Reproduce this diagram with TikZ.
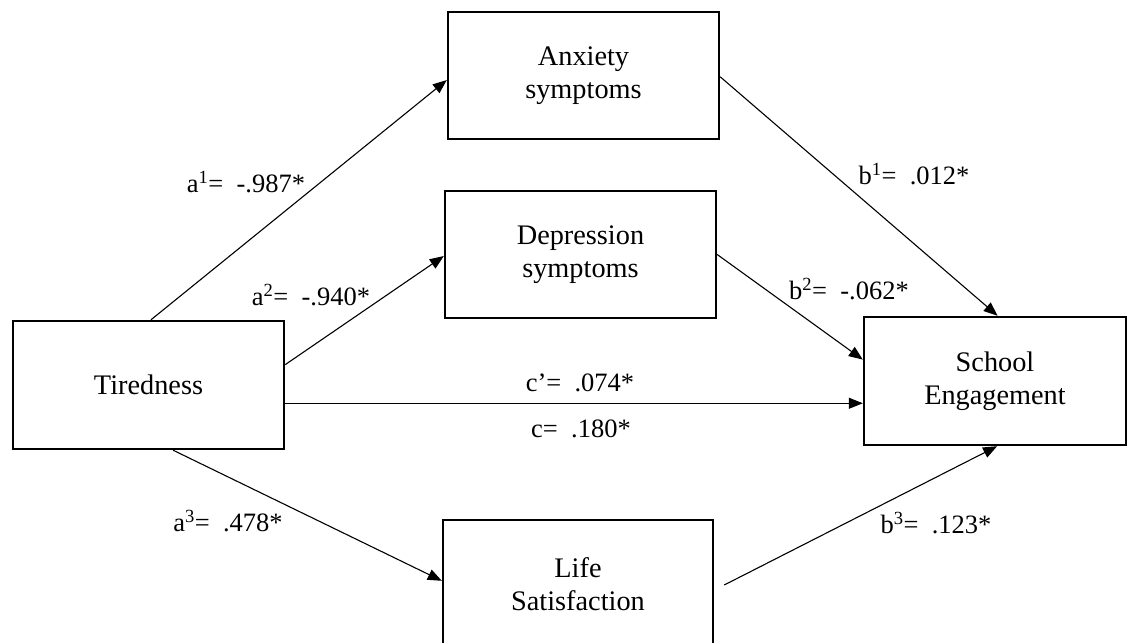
\documentclass[tikz,border=0pt]{standalone}
\usepackage{fontspec}
\setmainfont{Liberation Serif}
\usetikzlibrary{arrows.meta,calc}
\begin{document}
\begin{tikzpicture}[x=1pt,y=-1pt,
 box/.style={draw,line width=2.4pt,align=center,font=\fontsize{28.3}{33}\selectfont,inner sep=0pt},
 arr/.style={-{Triangle[length=14pt,width=11pt]},line width=1.1pt},
 lab/.style={font=\fontsize{26.5}{30}\selectfont,inner sep=0pt}]
\clip (0,0) rectangle (1128,643);
\fill[white] (0,0) rectangle (1128,643);
\node[box,minimum width=271,minimum height=127] (anx) at (583.5,75.5) {Anxiety\\symptoms};
\node[box,minimum width=271,minimum height=127] (dep) at (580.5,254.5) {Depression\\symptoms};
\node[box,minimum width=271,minimum height=128] (tired) at (148.5,385) {Tiredness};
\node[box,minimum width=262,minimum height=128] (school) at (995,381) {School\\Engagement};
\node[box,minimum width=270,minimum height=128] (life) at (578,584) {Life\\Satisfaction};
% connectors
\coordinate (t1) at ($(tired.north west)!0.509!(tired.north east)$);
\draw[arr] (t1) -- ($(anx.north west)!0.535!(anx.south west)$);
\draw[arr] ($(tired.north east)!0.344!(tired.south east)$) -- ($(dep.north west)!0.512!(dep.south west)$);
\coordinate (t3) at ($(tired.north east)!0.64!(tired.south east)$);
\draw[arr] (t3) -- (t3 -| school.west);
\draw[arr] ($(tired.south west)!0.59!(tired.south east)$) -- ($(life.north west)+(0,62)$);
\draw[arr] ($(anx.north east)!0.51!(anx.south east)$) -- ($(school.north west)!0.51!(school.north east)$);
\draw[arr] (dep.east) -- ($(school.north west)!0.336!(school.south west)$);
\coordinate (l1) at ($(life.east)+(10,1)$);
\draw[arr] (l1) -- ($(school.south west)!0.508!(school.south east)$);
% labels
\node[lab] (la1) at (246,182) {a\textsuperscript{1}=\ \ -.987*};
\node[lab] (la2) at (311,295) {a\textsuperscript{2}=\ \ -.940*};
\node[lab] (lc1) at (580,383) {c’=\ \ .074*};
\node[lab] (lc2) at (581,429) {c=\ \ .180*};
\node[lab] (la3) at (228,521) {a\textsuperscript{3}=\ \ .478*};
\node[lab] (lb1) at (914,174) {b\textsuperscript{1}=\ \ .012*};
\node[lab] (lb2) at (849,289) {b\textsuperscript{2}=\ \ -.062*};
\node[lab] (lb3) at (936,523) {b\textsuperscript{3}=\ \ .123*};
\end{tikzpicture}
\end{document}
